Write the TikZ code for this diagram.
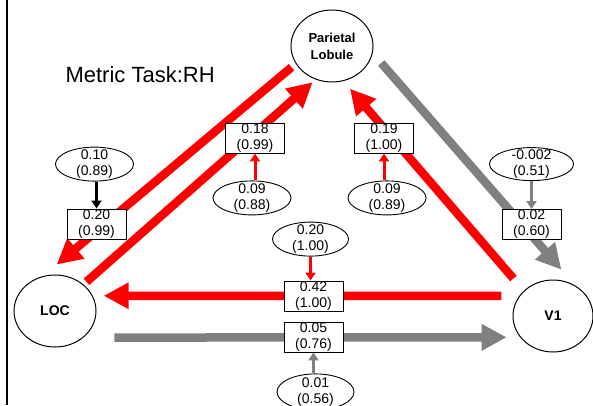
\documentclass[tikz,border=0pt]{standalone}
\usepackage{fontspec}
\setmainfont{Liberation Sans}
\usepackage{tikz}
\usetikzlibrary{positioning,shapes.geometric,arrows.meta}

\tikzset{
  region/.style={draw, ellipse, line width=1pt, align=center, inner sep=0pt,
    minimum width=82pt, minimum height=72pt, font=\fontsize{14}{17}\selectfont\bfseries},
  pbox/.style={draw, fill=white, line width=0.9pt, align=center, inner sep=0pt,
    minimum width=59pt, minimum height=30pt, font=\fontsize{14}{16}\selectfont},
  err/.style={draw, ellipse, fill=white, line width=0.9pt, align=center, inner xsep=0pt,
    inner ysep=-4pt, minimum width=78pt, minimum height=34pt, font=\fontsize{14}{16}\selectfont},
  big/.style={line width=8.5pt, -{Triangle[length=25pt,width=25pt]}},
  small/.style={line width=3pt, -{Triangle[length=8pt,width=10pt]}},
}
\definecolor{arrowgray}{RGB}{128,128,128}

\begin{document}
\begin{tikzpicture}[x=1pt,y=-1pt]
  \useasboundingbox (0,0) rectangle (593,405);
  \draw[line width=1.8pt] (7,0) -- (7,405);

  \node[anchor=base west, font=\fontsize{22}{26}\selectfont] (title) at (62,82) {Metric Task:RH};

  \node[region, font=\fontsize{13}{17}\selectfont\bfseries] (pl) at (332,46) {Parietal\\Lobule};
  \node[region] (loc) at (55,311) {LOC};
  \node[region, minimum width=80pt] (v1) at (553,316) {V1};

  %pl>loc
  \draw[big, red, shorten <=5.5pt, shorten >=18pt] (pl.206) -- (loc.109);
  %loc>pl
  \draw[big, red, shorten <=4pt, shorten >=4pt] (loc.43) -- (pl.244);
  %v1>pl
  \draw[big, red, shorten <=16pt, shorten >=10pt] (v1.139) -- (pl.288);
  %pl>v1
  \draw[big, arrowgray, shorten <=13pt, shorten >=21pt] (pl.350) -- (v1.54);
  %v1>loc
  \draw[big, red, shorten <=18pt, shorten >=11pt] (v1.149) -- (loc.22);
  %loc>v1
  \draw[big, arrowgray, shorten <=31pt, shorten >=13.5pt] (loc.317) -- (v1.213);

  %path coefficients
  \node[pbox] (plloc) at (96.5,224) {0.20\\(0.99)};
  \node[pbox] (locpl) at (255,138) {0.18\\(0.99)};
  \node[pbox] (v1pl) at (384,138) {0.19\\(1.00)};
  \node[pbox] (plv1) at (531.5,224.5) {0.02\\(0.60)};
  \node[pbox] (v1loc) at (313.5,296) {0.42\\(1.00)};
  \node[pbox] (locv1) at (313.5,337) {0.05\\(0.76)};

  %modulation
  \node[err, above=27pt of plloc, xshift=-2pt] (eplloc) {0.10\\(0.89)};
  \node[err, below=27pt of locpl, xshift=-3pt] (elocpl) {0.09\\(0.88)};
  \node[err, below=27pt of v1pl, xshift=3pt] (ev1pl) {0.09\\(0.89)};
  \node[err, above=28pt of plv1, minimum width=84pt, minimum height=33pt] (eplv1) {-0.002\\(0.51)};
  \node[err, above=24pt of v1loc, xshift=-3pt, minimum width=76pt] (ev1loc) {0.20\\(1.00)};
  \node[err, below=21pt of locv1, xshift=2pt, minimum width=77pt, minimum height=36pt] (elocv1) {0.01\\(0.56)};

  \draw[small, black] (eplloc.south -| plloc.north) -- (plloc.north);
  \draw[small, red] (elocpl.north -| locpl.south) -- (locpl.south);
  \draw[small, red] (ev1pl.north -| v1pl.south) -- (v1pl.south);
  \draw[small, arrowgray] (eplv1) -- (plv1);
  \draw[small, red] (ev1loc.south) -- (ev1loc.south |- v1loc.north);
  \draw[small, arrowgray] (elocv1.north -| locv1.south) -- (locv1.south);
\end{tikzpicture}
\end{document}
